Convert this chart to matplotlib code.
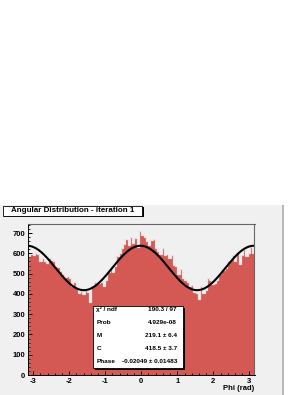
import numpy as np
import matplotlib
matplotlib.use("Agg")
import matplotlib.pyplot as plt
from matplotlib.patches import Rectangle

plt.rcParams['font.family'] = ['Liberation Sans', 'DejaVu Sans']
plt.rcParams['font.weight'] = 'bold'

# histogram contents, 100 bins from -pi to pi
counts = [585, 595, 590, 600, 595, 560, 575, 560, 555, 575,
          565, 560, 540, 535, 515, 500, 485, 490, 480, 440,
          460, 435, 405, 415, 400, 420, 410, 360, 440, 460,
          455, 455, 460, 440, 470, 510, 530, 510, 540, 585,
          600, 625, 645, 670, 640, 680, 650, 675, 630, 710,
          690, 680, 660, 640, 665, 670, 625, 610, 595, 625,
          590, 595, 575, 590, 545, 540, 500, 525, 480, 470,
          460, 440, 445, 410, 405, 375, 440, 405, 420, 480,
          470, 450, 455, 470, 500, 525, 520, 530, 560, 565,
          590, 560, 600, 550, 590, 620, 585, 600, 630, 600]

# fit parameters: C + M*cos^2(phi - Phase)
M = 219.1
C = 418.5
Phase = -0.02049

stats_names = ["\u03c7\u00b2 / ndf", "Prob", "M", "C", "Phase"]
stats_vals = ["190.3 / 97", "4.929e-08", "219.1 \u00b1 6.4", "418.5 \u00b1 3.7",
              "-0.02049 \u00b1 0.01483"]

W, H = 305, 395
fig = plt.figure(figsize=(W / 100, H / 100), dpi=100)
fig.patch.set_facecolor('white')

# pad background
fig.patches.append(Rectangle((0, 0), 282 / W, 190 / H, transform=fig.transFigure,
                             facecolor='#f0f0f0', edgecolor='none', zorder=-5))
fig.patches.append(Rectangle((282 / W, 0), 2 / W, 190 / H, transform=fig.transFigure,
                             facecolor='#b8b8b8', edgecolor='none', zorder=-5))

ax = fig.add_axes([28 / W, 20 / H, 226.5 / W, 151 / H])
ax.set_zorder(1)
ax.set_facecolor('#f0f0f0')

edges = np.linspace(-np.pi, np.pi, len(counts) + 1)
ax.stairs(counts, edges, fill=True, color='#d45954', zorder=1)
ax.stairs(counts, edges, color='#e6e6e6', lw=0.9, zorder=2)

phi = np.linspace(-np.pi, np.pi, 400)
ax.plot(phi, C + M * np.cos(phi - Phase) ** 2, color='black', lw=1.5, zorder=3)

ax.set_xlim(-np.pi, np.pi)
ax.set_ylim(0, 745)
ax.set_yticks(np.arange(0, 701, 100))
ax.set_yticks(np.arange(0, 741, 20), minor=True)
ax.set_xticks(np.arange(-3, 4, 1))
ax.set_xticks(np.arange(-3.0, 3.15, 0.2), minor=True)
ax.set_xticklabels([str(v) for v in range(-3, 4)])
ax.tick_params(direction='in', labelsize=5.5, length=3.2, width=0.7, pad=2)
ax.tick_params(which='minor', direction='in', length=1.6, width=0.6)
for s in ['top', 'right']:
    ax.spines[s].set_color('#666666')
    ax.spines[s].set_linewidth(0.8)
for s in ['left', 'bottom']:
    ax.spines[s].set_color('black')
    ax.spines[s].set_linewidth(0.7)

fig.text(254 / W, 1 - 388 / H, "Phi (rad)", ha='right', va='center', fontsize=5.5)

# title box
fig.patches.append(Rectangle((4 / W, 1 - 217 / H), 140 / W, 10 / H, transform=fig.transFigure,
                             facecolor='black', edgecolor='none', zorder=4))
fig.patches.append(Rectangle((3 / W, 1 - 216 / H), 139 / W, 10 / H, transform=fig.transFigure,
                             facecolor='white', edgecolor='black', lw=0.6, zorder=5))
fig.text(73 / W, 1 - 211 / H, "Angular Distribution - iteration 1", ha='center', va='center',
         fontsize=5.8, zorder=6)

# stats box
fig.patches.append(Rectangle((94.5 / W, 1 - 369.5 / H), 90 / W, 62 / H, transform=fig.transFigure,
                             facecolor='black', edgecolor='none', zorder=4))
fig.patches.append(Rectangle((93 / W, 1 - 368 / H), 90 / W, 62 / H, transform=fig.transFigure,
                             facecolor='white', edgecolor='black', lw=0.6, zorder=5))
for k, (n, v) in enumerate(zip(stats_names, stats_vals)):
    y = 1 - (309.5 + 13 * k) / H
    fig.text(96.5 / W, y, n, ha='left', va='center', fontsize=4.6, zorder=6)
    fig.text(177 / W, y, v, ha='right', va='center', fontsize=4.6, zorder=6)

fig.savefig("out.png", dpi=100)
